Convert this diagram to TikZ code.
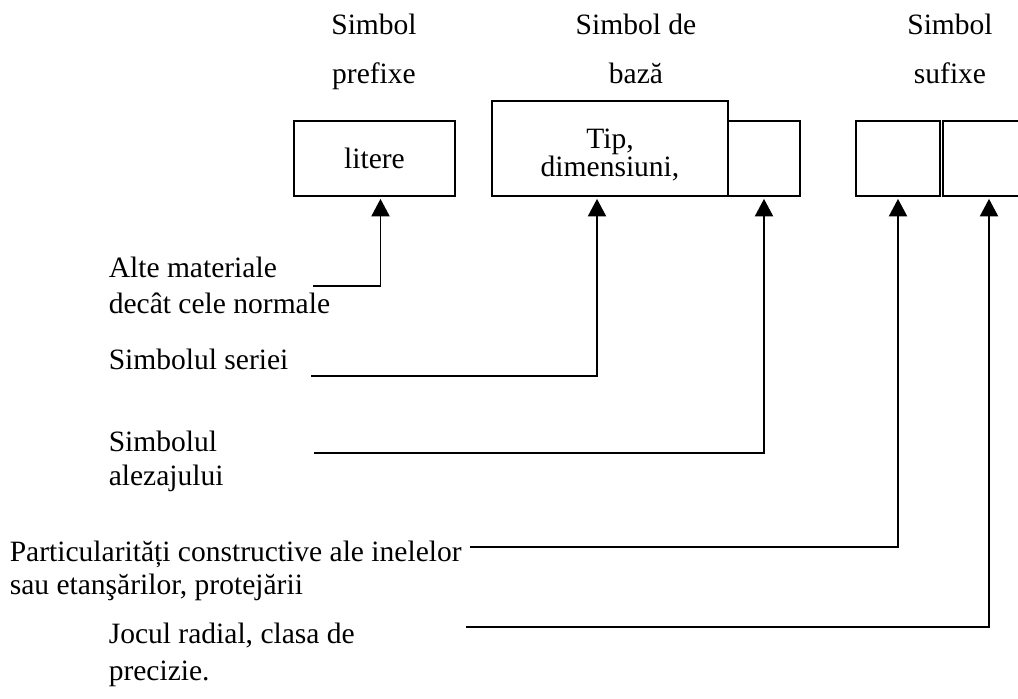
\documentclass[tikz,border=0pt]{standalone}
\usepackage{fontspec}
\setmainfont{Liberation Serif}
\usetikzlibrary{arrows.meta}

\begin{document}
\begin{tikzpicture}[x=0.025cm, y=-0.025cm, line width=1.1pt,
  font=\fontsize{21}{25}\selectfont,
  cell/.style={draw, inner sep=0pt, minimum height=1.875cm},
  ttl/.style={anchor=north, inner sep=0pt, align=center, font=\fontsize{21}{34.8}\selectfont},
  lbl/.style={anchor=north west, inner sep=0pt, align=left},
  arr/.style={-{Triangle[length=12.5pt,width=13pt]}, shorten >=1.5pt}]
\useasboundingbox (0,0) rectangle (1018,698);
\clip (0,0) rectangle (1018,698);

% titles
\node[ttl] (pref) at (374,13) {Simbol\\prefixe};
\node[ttl] (baza) at (636,13) {Simbol de\\bază};
\node[ttl] (sufx) at (950,13) {Simbol\\sufixe};

% boxes
\node[cell, minimum width=4.025cm] (litere) at (374.5,158.5) {litere};
\node[cell, minimum width=5.9cm, minimum height=2.375cm] (tip) at (610,148.5) {};
\node[align=center, font=\fontsize{21}{20.5}\selectfont] (tiptext) at (610,155) {Tip,\\dimensiuni,};
\node[cell, minimum width=1.8cm] (alez) at (764,158.5) {};
\node[cell, minimum width=2.1cm] (suf1) at (898,158.5) {};
\node[cell, minimum width=2.3cm] (suf2) at (989,158.5) {};

% left labels
\node[lbl, font=\fontsize{21}{25.6}\selectfont] (mat) at (108,256) {Alte materiale\\decât cele normale};
\node[lbl] (serie) at (108,348) {Simbolul seriei};
\node[lbl, font=\fontsize{21}{24.2}\selectfont] (alezl) at (108,430) {Simbolul\\alezajului};
\node[lbl, font=\fontsize{21}{23.5}\selectfont] (part) at (9,540) {Particularități constructive ale inelelor\\sau etanşărilor, protejării};
\node[lbl, font=\fontsize{21}{26.5}\selectfont] (joc) at (108,622) {Jocul radial, clasa de\\precizie.};

% connectors
\coordinate (m0) at (313,286);
\coordinate (s0) at (311,376);
\coordinate (a0) at (314,453);
\coordinate (p0) at (470,547);
\coordinate (j0) at (466,627);
\draw[arr] (m0) -| ([xshift=0.15cm]litere.south);
\draw[arr] (s0) -| ([xshift=-0.325cm]tip.south);
\draw[arr] (a0) -| (alez.south);
\draw[arr] (p0) -| (suf1.south);
\draw[arr] (j0) -| (suf2.south);
\end{tikzpicture}
\end{document}
